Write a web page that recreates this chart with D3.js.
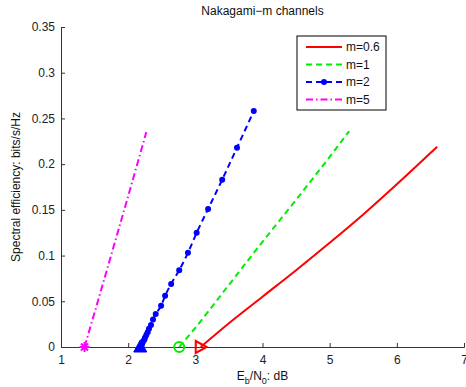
<!DOCTYPE html>
<html>
<head>
<meta charset="utf-8">
<script src="https://cdn.jsdelivr.net/npm/d3@7"></script>
<style>
    body { margin: 0; background: #fff; }
    text { font-family: "Liberation Sans", Arial, sans-serif; }
</style>
</head>
<body>
<div id="chart"></div>
<script>
// Eb/N0 (dB) vs spectral efficiency
const m06X = [3.08, 3.5, 4.0, 4.5, 5.0, 5.5, 6.0, 6.6];
const m06Y = [0, 0.026, 0.055, 0.084, 0.114, 0.145, 0.178, 0.219];

const m1X = [2.76, 3.0, 3.5, 4.0, 4.5, 5.0, 5.29];
const m1Y = [0, 0.021, 0.068, 0.115, 0.161, 0.208, 0.236];

const m2X = [2.18, 2.19, 2.20, 2.21, 2.22, 2.24, 2.25, 2.27, 2.29, 2.31, 2.34, 2.37, 2.41, 2.49, 2.55, 2.64, 2.76, 2.89, 3.02, 3.19, 3.40, 3.62, 3.87];
const m2Y = [0, 0.001, 0.002, 0.004, 0.006, 0.008, 0.010, 0.013, 0.016, 0.020, 0.024, 0.030, 0.036, 0.045, 0.056, 0.069, 0.084, 0.103, 0.125, 0.151, 0.183, 0.218, 0.258];

const m5X = [1.35, 1.6, 1.8, 2.0, 2.27];
const m5Y = [0, 0.063, 0.114, 0.165, 0.235];

const seriesNames = ["m=0.6", "m=1", "m=2", "m=5"];
const xTicks = [1, 2, 3, 4, 5, 6, 7];
const yTicks = [0, 0.05, 0.1, 0.15, 0.2, 0.25, 0.3, 0.35];

function initChart() {
    const margin = { top: 27, right: 2, bottom: 40, left: 61 },
        width = 466 - margin.left - margin.right,
        height = 387 - margin.top - margin.bottom;

    const svg = d3.select("#chart")
        .append("svg")
        .attr("width", 466)
        .attr("height", 387)
        .append("g")
        .attr("transform", "translate(" + margin.left + "," + margin.top + ")");

    const xScale = d3.scaleLinear().domain([1, 7]).range([0, width]);
    const yScale = d3.scaleLinear().domain([0, 0.35]).range([height, 0]);

    const styles = [
        { color: "#ff0000", dash: null, dots: false, marker: "triR" },
        { color: "#00ee00", dash: "6,4", dots: false, marker: "circle" },
        { color: "#0000ff", dash: "6,4", dots: true, marker: "triU" },
        { color: "#ff00ff", dash: "7,3,1.5,3", dots: false, marker: "star" }
    ];
    const allX = [m06X, m1X, m2X, m5X];
    const allY = [m06Y, m1Y, m2Y, m5Y];

    const line = d3.line()
        .curve(d3.curveMonotoneX)
        .x(d => xScale(d[0]))
        .y(d => yScale(d[1]));

    // axes
    const xAxis = svg.append("g")
        .attr("transform", "translate(0," + height + ")")
        .call(d3.axisBottom(xScale).tickValues(xTicks).tickSize(-4).tickPadding(8).tickFormat(d3.format("d")));
    const yAxis = svg.append("g")
        .call(d3.axisLeft(yScale).tickValues(yTicks).tickSize(-4).tickPadding(6).tickFormat(d => d === 0 ? "0" : d3.format("")(+d.toFixed(2))));
    [xAxis, yAxis].forEach(a => {
        a.select(".domain").attr("stroke", "#333").attr("stroke-width", 1);
        a.selectAll(".tick line").attr("stroke", "#333");
        a.selectAll(".tick text").style("font-size", "12px").attr("fill", "#222")
            .style("font-family", "'Liberation Sans', Arial, sans-serif");
    });

    // series
    seriesNames.forEach((name, i) => {
        const pts = allX[i].map((x, j) => [x, allY[i][j]]);
        const st = styles[i];
        svg.append("path")
            .datum(pts)
            .attr("fill", "none")
            .attr("stroke", st.color)
            .attr("stroke-width", 2)
            .attr("stroke-dasharray", st.dash)
            .attr("d", line);

        if (st.dots) {
            svg.selectAll(".dot" + i)
                .data(pts.slice(1))
                .enter()
                .append("circle")
                .attr("cx", d => xScale(d[0]))
                .attr("cy", d => yScale(d[1]))
                .attr("r", 3)
                .attr("fill", st.color);
        }

        // start marker
        const p = pts[0];
        const cx = xScale(p[0]), cy = yScale(p[1]);
        const g = svg.append("g").attr("transform", "translate(" + cx + "," + cy + ")");
        if (st.marker === "triR") {
            g.append("path").attr("d", "M-5,-6L6,0L-5,6Z")
                .attr("fill", "none").attr("stroke", st.color).attr("stroke-width", 2);
        } else if (st.marker === "circle") {
            g.append("circle").attr("r", 5)
                .attr("fill", "none").attr("stroke", st.color).attr("stroke-width", 2);
        } else if (st.marker === "triU") {
            g.append("path").attr("d", "M0,-7L6.5,5L-6.5,5Z")
                .attr("fill", st.color).attr("stroke", st.color).attr("stroke-width", 1);
        } else if (st.marker === "star") {
            [0, 45, 90, 135].forEach(a => {
                g.append("line")
                    .attr("x1", -5).attr("x2", 5).attr("y1", 0).attr("y2", 0)
                    .attr("transform", "rotate(" + a + ")")
                    .attr("stroke", st.color).attr("stroke-width", 2);
            });
        }
    });

    // legend
    const legend = svg.append("g").attr("transform", "translate(" + (297 - margin.left) + "," + (36 - margin.top) + ")");
    legend.append("rect")
        .attr("width", 89).attr("height", 74)
        .attr("fill", "#fff").attr("stroke", "#000").attr("stroke-width", 1);
    seriesNames.forEach((name, i) => {
        const st = styles[i];
        const ly = 11 + i * 17.5;
        legend.append("line")
            .attr("x1", 9).attr("x2", 45).attr("y1", ly).attr("y2", ly)
            .attr("stroke", st.color).attr("stroke-width", 2)
            .attr("stroke-dasharray", st.dash);
        if (st.dots) {
            legend.append("circle").attr("cx", 27).attr("cy", ly).attr("r", 3).attr("fill", st.color);
        }
        legend.append("text")
            .attr("x", 49).attr("y", ly + 4)
            .style("font-size", "12px")
            .attr("fill", "#111")
            .text(name);
    });

    // title
    svg.append("text")
        .attr("x", width / 2)
        .attr("y", -12)
        .attr("text-anchor", "middle")
        .style("font-size", "12px")
        .attr("fill", "#111")
        .text("Nakagami\u2212m channels");

    // x label
    const xl = svg.append("text")
        .attr("x", width / 2)
        .attr("y", height + 33)
        .attr("text-anchor", "middle")
        .style("font-size", "12px")
        .attr("fill", "#111");
    xl.append("tspan").text("E");
    xl.append("tspan").attr("dy", 4).style("font-size", "9px").text("b");
    xl.append("tspan").attr("dy", -4).text("/N");
    xl.append("tspan").attr("dy", 4).style("font-size", "9px").text("0");
    xl.append("tspan").attr("dy", -4).text(": dB");

    // y label
    svg.append("text")
        .attr("transform", "rotate(-90)")
        .attr("x", -height / 2)
        .attr("y", -41)
        .attr("text-anchor", "middle")
        .style("font-size", "12px")
        .attr("fill", "#111")
        .text("Spectral efficiency: bits/s/Hz");
}
window.onload = initChart;
</script>
</body>
</html>
